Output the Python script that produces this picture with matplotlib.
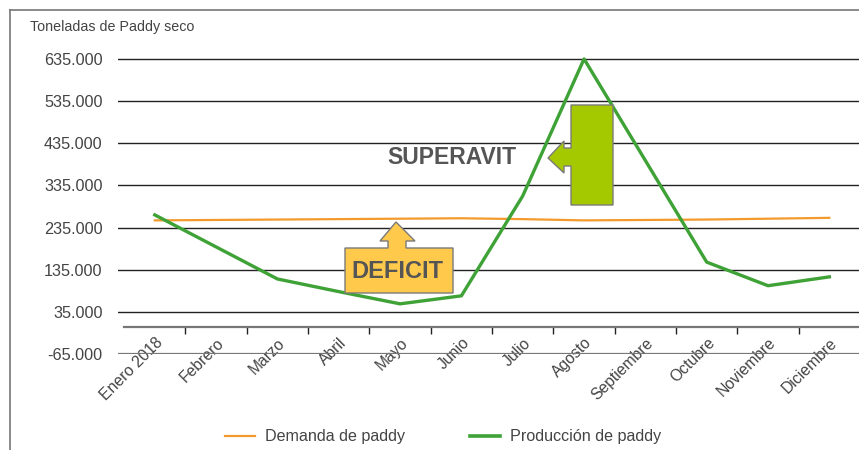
import matplotlib.pyplot as plt
from matplotlib.patches import Polygon
from matplotlib.lines import Line2D
from matplotlib.ticker import FuncFormatter, FixedLocator
import matplotlib.transforms as mtransforms

plt.rcParams['font.family'] = ['Liberation Sans', 'DejaVu Sans']

W, H = 859, 450

meses = ['Enero 2018', 'Febrero', 'Marzo', 'Abril', 'Mayo', 'Junio', 'Julio',
         'Agosto', 'Septiembre', 'Octubre', 'Noviembre', 'Diciembre']
demanda = [252000, 253000, 254000, 255000, 256000, 257000, 255000,
           252000, 253000, 254000, 256000, 258000]
produccion = [265000, 189000, 113000, 83000, 54000, 73000, 310000,
              635000, 394000, 153000, 97000, 118000]
yticks = [-65000, 35000, 135000, 235000, 335000, 435000, 535000, 635000]

gris = '#555555'


def px(x, y):  # pixel de la imagen -> fraccion de figura
    return (x / W, 1 - y / H)


fig = plt.figure(figsize=(W / 100, H / 100), dpi=100)
ax = fig.add_axes([118 / W, 1 - 354 / H, 742 / W, (354 - 46.3) / H])

x = list(range(len(meses)))
ax.plot(x, demanda, color='#F39A2C', lw=1.6, zorder=3)
ax.plot(x, produccion, color='#3EA236', lw=2.4, zorder=3)

ax.set_xlim(-0.6, 11.5)
ax.set_ylim(-65000, 665000)

ax.set_yticks(yticks)
ax.yaxis.set_major_formatter(FuncFormatter(lambda v, p: '{:,.0f}'.format(v).replace(',', '.')))
ax.tick_params(axis='y', length=0, pad=11, labelsize=11.7, labelcolor='#444444')
ax.yaxis.grid(True, color='#222222', lw=1.0)
gl = ax.yaxis.get_gridlines()
gl[0].set_color('#777777')
gl[0].set_linewidth(1.6)
ax.set_axisbelow(True)

for s in ['left', 'right', 'top']:
    ax.spines[s].set_visible(False)
ax.spines['bottom'].set_position(('data', 0))
ax.spines['bottom'].set_bounds(-0.5, 11.5)
ax.spines['bottom'].set_color('#777777')
ax.spines['bottom'].set_linewidth(1.6)

ax.set_xticks(x)
ax.set_xticklabels(meses, rotation=45, ha='right', va='center', rotation_mode='anchor')
ax.xaxis.set_minor_locator(FixedLocator([i + 0.5 for i in range(11)]))
ax.tick_params(axis='x', which='major', length=0, pad=10, labelsize=11.3, labelcolor='#444444')
ax.tick_params(axis='x', which='minor', length=5, width=1, color='#222222')
off = mtransforms.ScaledTranslation(4 / 72, 0, fig.dpi_scale_trans)
for lab in ax.get_xticklabels():
    lab.set_transform(lab.get_transform() + off)

# titulo del eje
fig.text(*px(30, 27), 'Toneladas de Paddy seco', fontsize=10.3, color='#444444', va='center')

# marco de la figura
fig.add_artist(Line2D([10 / W, 10 / W], [0, 1 - 10 / H], color='#777777', lw=1.2))
fig.add_artist(Line2D([10 / W, 1], [1 - 10 / H, 1 - 10 / H], color='#777777', lw=1.2))

# flecha DEFICIT
deficit = [(345, 293), (345, 248), (388, 248), (388, 241), (380, 241), (396, 222),
           (415, 241), (406, 241), (406, 248), (453, 248), (453, 293)]
fig.add_artist(Polygon([px(a, b) for a, b in deficit], closed=True,
                       transform=fig.transFigure, facecolor='#FFC94B',
                       edgecolor='#7a7a7a', lw=1, zorder=5))
fig.text(*px(397, 272), 'DEFICIT', fontsize=17, fontweight='bold', color=gris,
         ha='center', va='center', zorder=6)

# flecha SUPERAVIT
superavit = [(571, 105), (613, 105), (613, 205), (571, 205), (571, 166), (564, 166),
             (564, 173), (548, 158), (564, 141), (564, 148), (571, 148)]
fig.add_artist(Polygon([px(a, b) for a, b in superavit], closed=True,
                       transform=fig.transFigure, facecolor='#A5C900',
                       edgecolor='#7a7a7a', lw=1, zorder=5))
fig.text(*px(452, 157), 'SUPERAVIT', fontsize=16.5, fontweight='bold', color=gris,
         ha='center', va='center', zorder=6)

# leyenda
handles = [Line2D([], [], color='#F39A2C', lw=1.6), Line2D([], [], color='#3EA236', lw=2.6)]
fig.legend(handles, ['Demanda de paddy', 'Producción de paddy'], ncol=2, frameon=False,
           loc='center', bbox_to_anchor=px(443, 437), fontsize=11.6, labelcolor='#444444',
           handlelength=1.9, handletextpad=0.6, columnspacing=4.0)

fig.savefig('out.png', dpi=100)
